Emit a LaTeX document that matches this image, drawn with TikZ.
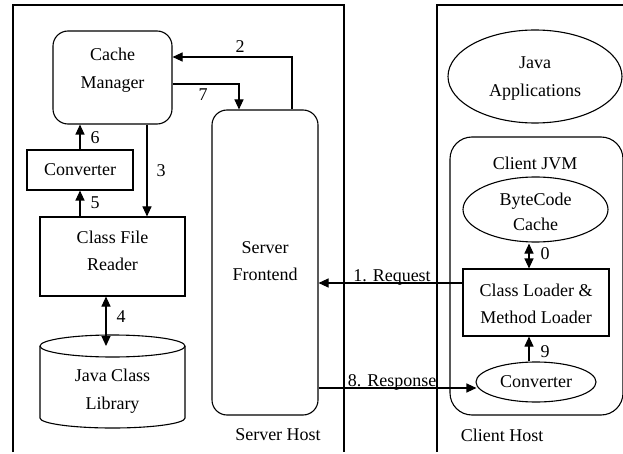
\documentclass[tikz,border=0pt]{standalone}
\usepackage{fontspec}
\setmainfont{Liberation Serif}
\usetikzlibrary{arrows.meta,shapes.geometric}
\begin{document}
\begin{tikzpicture}[x=1pt,y=-1pt,line width=1.1pt,
  every node/.style={font=\fontsize{18}{27.5}\selectfont,inner sep=0pt,align=center},
  box/.style={draw,rectangle},
  rbox/.style={draw,rectangle,rounded corners=15pt},
  ell/.style={draw,ellipse},
  tip/.tip={Triangle[length=10pt,width=9pt]},
  arr/.style={-tip},
  darr/.style={tip-tip}]
\useasboundingbox (0,0) rectangle (623,454);
% host frames
\draw (13,452) -- (13,5) -- (344,5) -- (344,452);
\draw (437,452) -- (437,5) -- (623,5);
\node (shost) at (278,435) {Server Host};
\node (chost) at (502,435) {Client Host};
% server side
\node[rbox,minimum width=119pt,minimum height=93pt] (cache) at (112.5,77.5) {};
\node (cachet) at (112.5,70) {Cache\\Manager};
\node[box,minimum width=106pt,minimum height=40pt] (conv1) at (80,170) {Converter};
\node[box,minimum width=145pt,minimum height=79pt] (cfr) at (112.5,256.5) {};
\node (cfrt) at (112.5,251) {Class File\\Reader};
\node[rbox,minimum width=106pt,minimum height=305pt] (sf) at (265,262.5) {};
\node (sft) at (265,261) {Server\\Frontend};
% cylinder
\draw (40,346) -- (40,418) arc[start angle=180,end angle=360,x radius=72.5pt,y radius=10pt] -- (185,346);
\draw (112.5,346) ellipse[x radius=72.5pt,y radius=11pt];
\node (jcl) at (112.5,391) {Java Class\\Library};
\coordinate (jtop) at (106,346);
% client side
\node[ell,minimum width=174pt,minimum height=93pt] (japps) at (535,76.5) {};
\node (jappst) at (535,78.5) {Java\\Applications};
\node[draw,rectangle,rounded corners=22pt,minimum width=173pt,minimum height=278pt] (jvm) at (536.5,276) {};
\node (jvmt) at (535,163) {Client JVM};
\node[ell,minimum width=145pt,minimum height=65pt] (bcc) at (535.5,209.5) {};
\node[font=\fontsize{18}{25}\selectfont] (bcct) at (535.5,211.5) {ByteCode\\Cache};
\node[box,minimum width=146pt,minimum height=67pt] (cl) at (536,302.5) {};
\node (clt) at (536,304) {Class Loader \&\\Method Loader};
\node[ell,minimum width=120pt,minimum height=40pt] (conv2) at (536,382) {Converter};
% connectors
\coordinate (c2a) at (292,57);
\draw[arr] (sf.north -| c2a) -- (c2a) -- (cache.east |- c2a);
\node (l2) at (240,47) {2};
\coordinate (c7a) at (239,84);
\draw[arr] (cache.east |- c7a) -- (c7a) -- (sf.north -| c7a);
\node (l7) at (203,95) {7};
\draw[arr] (conv1.north) -- (cache.south -| conv1.north);
\node (l6) at (95,138) {6};
\draw[arr] (cfr.north -| conv1.south) -- (conv1.south);
\node (l5) at (95,203) {5};
\coordinate (c3) at (147,124);
\draw[arr] (cache.south -| c3) -- (cfr.north -| c3);
\node (l3) at (161,171) {3};
\draw[darr] (cfr.south -| jtop) -- (jtop);
\node (l4) at (121,317) {4};
\coordinate (c0) at (529,250);
\draw[darr] (cl.north -| c0) -- ([yshift=-1pt]bcc.south -| c0);
\node (l0) at (545,254) {0};
\draw[arr] (conv2.north -| c0) -- (cl.south -| c0);
\node (l9) at (545,352) {9};
\coordinate (c1) at (0,283);
\draw[arr] (cl.west |- c1) -- (sf.east |- c1);
\node[anchor=base] (l1) at (392,281) {1. Request};
\coordinate (c8) at (0,388);
\draw[arr] (sf.east |- c8) -- ([xshift=1pt]conv2.west |- c8);
\node[anchor=base] (l8) at (392,386) {8. Response};
\end{tikzpicture}
\end{document}
